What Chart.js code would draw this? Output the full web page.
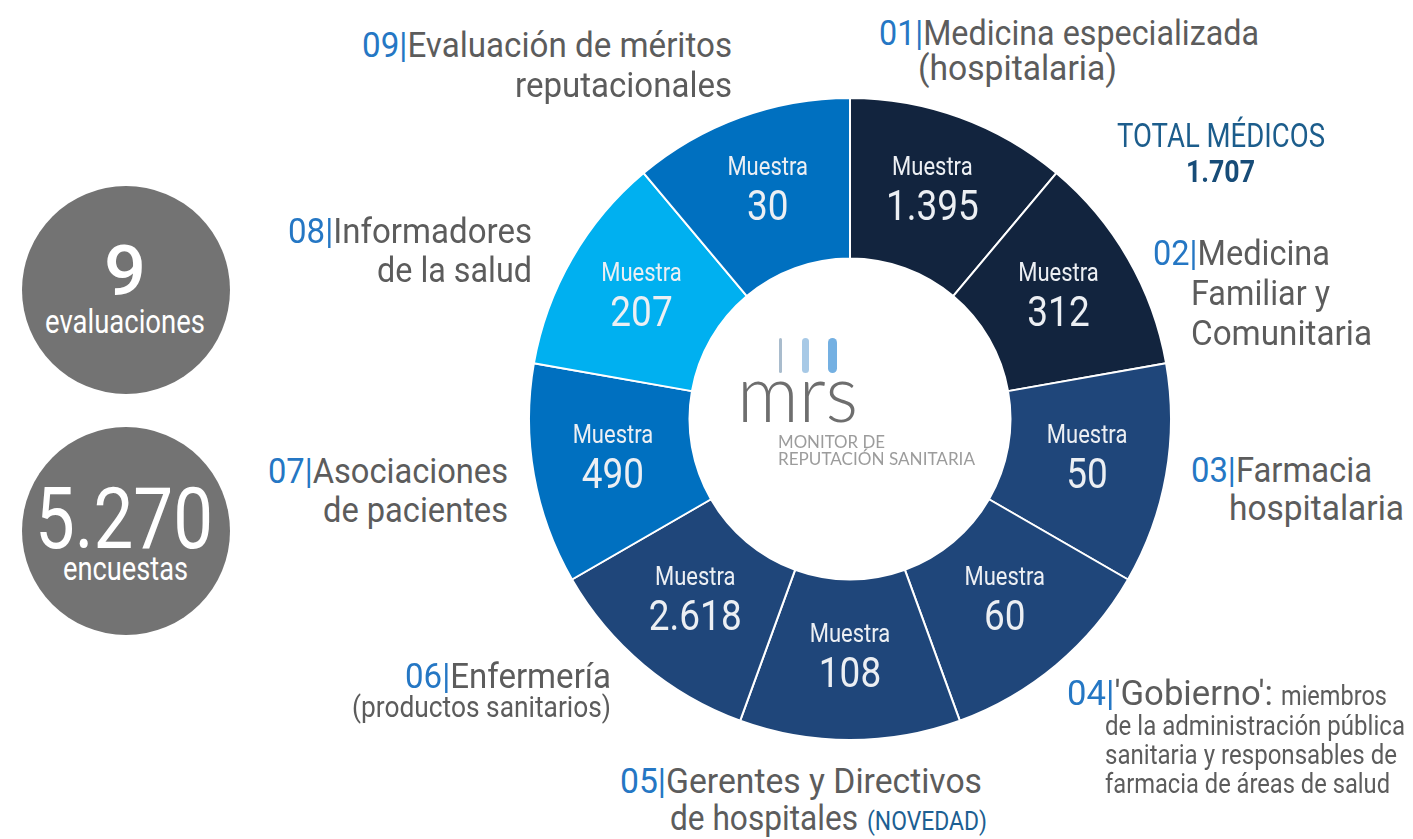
<!DOCTYPE html>
<html lang="es">
<head>
<meta charset="utf-8">
<title>Monitor de Reputación Sanitaria</title>
<script src="https://cdn.jsdelivr.net/npm/chart.js@4/dist/chart.umd.min.js"></script>
<style>
  html, body { margin: 0; padding: 0; background: #ffffff; }
  #stage { position: relative; width: 1413px; height: 839px; overflow: hidden; }
  #chartBox { position: absolute; left: 528px; top: 97px; width: 644px; height: 644px; }
  .line { position: absolute; left: 0; top: 0; white-space: nowrap; line-height: 1.2;
          font-family: Roboto, "Liberation Sans", sans-serif; font-weight: 400; color: #5c5c5c; }
  .bl { display: inline-block; width: 0; height: 0; }
  .num { color: #2577c4; }
  .circle { position: absolute; width: 208px; height: 208px; border-radius: 50%; background: #737373; }
  .bar { position: absolute; border-radius: 5px; }
</style>
</head>
<body>
<div id="stage">
  <div id="chartBox"><canvas id="chart"></canvas></div>
  <div class="bar" style="left:779px; top:338px; width:3px; height:35px; background:#a9bccd;"></div>
  <div class="bar" style="left:802px; top:338px; width:7px; height:35px; background:#a7c9e6;"></div>
  <div class="bar" style="left:828px; top:338px; width:9px; height:35px; background:#74b0e2;"></div>
  <div class="circle" style="left:22px; top:186px;"></div>
  <div class="circle" style="left:22px; top:427px;"></div>
</div>

<script>
// ---------- data ----------
const categoryCodes  = ['01', '02', '03', '04', '05', '06', '07', '08', '09'];
const categoryNames  = [
  'Medicina especializada (hospitalaria)',
  'Medicina Familiar y Comunitaria',
  'Farmacia hospitalaria',
  "'Gobierno': miembros de la administración pública sanitaria y responsables de farmacia de áreas de salud",
  'Gerentes y Directivos de hospitales (NOVEDAD)',
  'Enfermería (productos sanitarios)',
  'Asociaciones de pacientes',
  'Informadores de la salud',
  'Evaluación de méritos reputacionales'
];
const sampleSizes    = [1395, 312, 50, 60, 108, 2618, 490, 207, 30];
const segmentWeights = [1, 1, 1, 1, 1, 1, 1, 1, 1];   // every evaluation drawn as an equal sector
const medicalCodes   = ['01', '02'];
const sampleWord     = 'Muestra';

// ---------- styles ----------
const segmentColors = ['#12243e', '#12243e', '#1f467a', '#1f467a', '#1f467a', '#1f467a', '#0070c0', '#00b0f0', '#0070c0'];
const FONT = 'Roboto, "Liberation Sans", sans-serif';

function fmt(n) { return String(n).replace(/\B(?=(\d{3})+(?!\d))/g, '.'); }
const totalSurveys = sampleSizes.reduce((a, b) => a + b, 0);
const totalMedical = sampleSizes.filter((_, i) => medicalCodes.includes(categoryCodes[i])).reduce((a, b) => a + b, 0);

// ---------- text placement helper: line from x0 to x1 with given baseline ----------
const stage = document.getElementById('stage');
function placeLine(html, x0, x1, base, size, style) {
  const d = document.createElement('div');
  d.className = 'line';
  d.style.fontSize = size + 'px';
  if (style) d.style.cssText += style;
  d.innerHTML = html + '<span class="bl"></span>';
  stage.appendChild(d);
  const baseOff = d.querySelector('.bl').offsetTop;
  const w = d.getBoundingClientRect().width;
  d.style.left = x0 + 'px';
  d.style.top = (base - baseOff) + 'px';
  d.style.transformOrigin = '0 0';
  d.style.transform = 'scaleX(' + ((x1 - x0) / w).toFixed(4) + ')';
}
const N = (c) => '<span class="num">' + c + '|</span>';

// outer labels
placeLine(N(categoryCodes[0]) + 'Medicina especializada', 879, 1259, 45, 35);
placeLine('(hospitalaria)', 918, 1117, 80, 35);
placeLine(N(categoryCodes[1]) + 'Medicina', 1153, 1330, 265, 35);
placeLine('Familiar y', 1191, 1330, 305, 35);
placeLine('Comunitaria', 1191, 1372, 345, 35);
placeLine(N(categoryCodes[2]) + 'Farmacia', 1191, 1372, 482, 35);
placeLine('hospitalaria', 1229, 1404, 520, 35);
placeLine(N(categoryCodes[3]) + "'Gobierno':", 1067, 1273, 705, 35);
placeLine('miembros', 1281, 1387, 705, 27);
placeLine('de la administración pública', 1105, 1405, 735, 27);
placeLine('sanitaria y responsables de', 1105, 1397, 764, 27);
placeLine('farmacia de áreas de salud', 1105, 1390, 793, 27);
placeLine(N(categoryCodes[4]) + 'Gerentes y Directivos', 620, 982, 793, 35);
placeLine('de hospitales', 670, 858, 830, 35);
placeLine('(NOVEDAD)', 867, 987, 830, 25, 'color:#1d5f92;');
placeLine(N(categoryCodes[5]) + 'Enfermería', 405, 611, 688, 35);
placeLine('(productos sanitarios)', 352, 611, 717, 29);
placeLine(N(categoryCodes[6]) + 'Asociaciones', 268, 508, 483, 35);
placeLine('de pacientes', 323, 508, 522, 35);
placeLine(N(categoryCodes[7]) + 'Informadores', 288, 532, 243, 35);
placeLine('de la salud', 377, 532, 282, 35);
placeLine(N(categoryCodes[8]) + 'Evaluación de méritos', 362, 732, 57, 35);
placeLine('reputacionales', 515, 732, 97, 35);

// total médicos
placeLine('TOTAL MÉDICOS', 1117, 1325, 147, 33, 'color:#1c5d8c;');
placeLine(fmt(totalMedical), 1186, 1255, 182, 32, 'color:#174c78; font-weight:700;');

// summary circles
placeLine(String(categoryCodes.length), 104, 146, 295, 70, 'color:#fff; font-weight:500;');
placeLine('evaluaciones', 45, 205, 333, 33, 'color:#fff;');
placeLine(fmt(totalSurveys), 35, 213, 548, 86, 'color:#fff;');
placeLine('encuestas', 63, 188, 580, 33, 'color:#fff;');

// logo text
placeLine('mrs', 737, 858, 422, 80, 'font-family:Lato, "Open Sans", sans-serif; font-weight:300; color:#6e6e6e;');
placeLine('MONITOR DE', 778, 885, 448, 16.5, 'font-family:Lato, "Open Sans", sans-serif; color:#9c9c9c;');
placeLine('REPUTACIÓN SANITARIA', 778, 975, 465, 16.5, 'font-family:Lato, "Open Sans", sans-serif; color:#9c9c9c;');

// ---------- sector labels plugin ----------
const sectorLabels = {
  id: 'sectorLabels',
  afterDatasetsDraw(chart) {
    const ctx = chart.ctx;
    const meta = chart.getDatasetMeta(0);
    meta.data.forEach((arc, i) => {
      const p = arc.getCenterPoint();
      ctx.save();
      ctx.fillStyle = '#eceff3';
      ctx.textAlign = 'center';
      ctx.textBaseline = 'alphabetic';
      ctx.translate(p.x, p.y);
      ctx.scale(0.88, 1);
      ctx.font = '25px ' + FONT;
      ctx.fillText(sampleWord, 0, -18);
      ctx.font = '42px ' + FONT;
      ctx.fillText(fmt(sampleSizes[i]), 0, 27);
      ctx.restore();
    });
  }
};

new Chart(document.getElementById('chart'), {
  type: 'doughnut',
  data: {
    labels: categoryNames,
    datasets: [{
      data: segmentWeights,
      backgroundColor: segmentColors,
      borderColor: '#ffffff',
      borderWidth: 2,
      hoverOffset: 0
    }]
  },
  options: {
    responsive: true,
    maintainAspectRatio: false,
    animation: false,
    cutout: '50%',
    rotation: 0,
    layout: { padding: 0 },
    plugins: { legend: { display: false }, tooltip: { enabled: false } }
  },
  plugins: [sectorLabels]
});
</script>
</body>
</html>
